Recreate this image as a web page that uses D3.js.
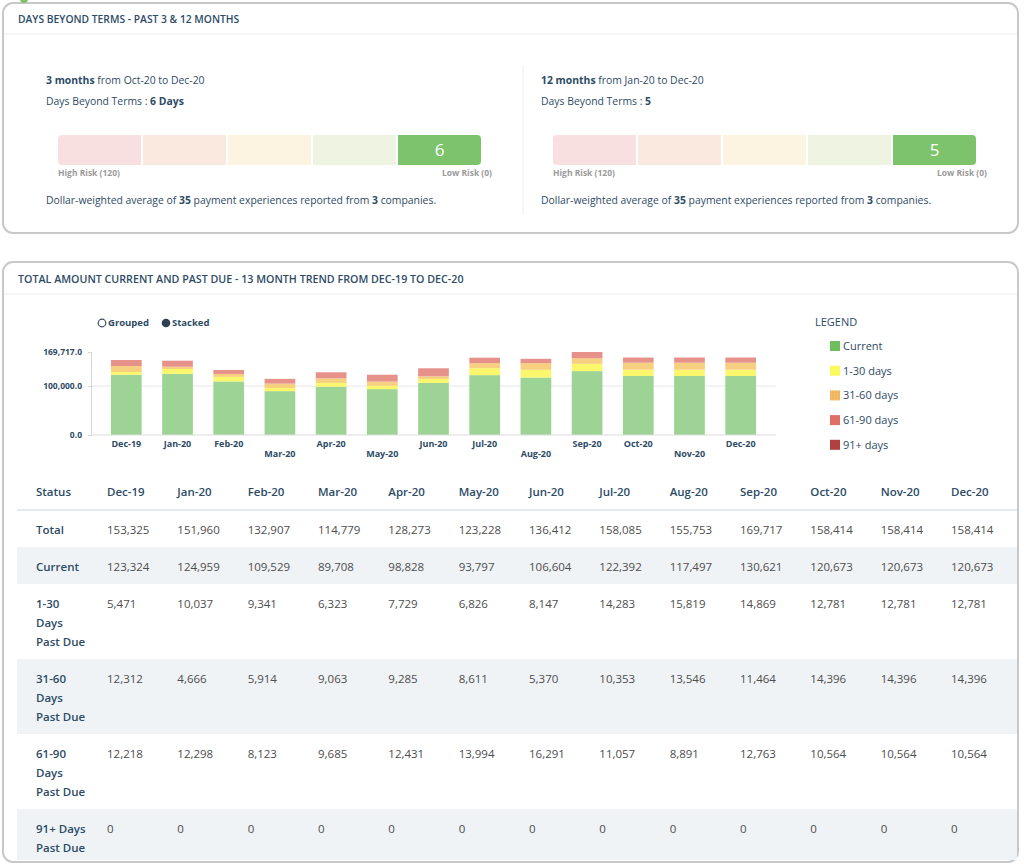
<!DOCTYPE html>
<html>
<head>
<meta charset="utf-8">
<script src="https://cdn.jsdelivr.net/npm/d3@7"></script>
<style>
    body { margin: 0; background: #fff; font-family: 'Open Sans', sans-serif; }
    svg { display: block; }
</style>
</head>
<body>
<svg id="page"></svg>
<script>
// ---- data ----
const months = ['Dec-19', 'Jan-20', 'Feb-20', 'Mar-20', 'Apr-20', 'May-20', 'Jun-20',
    'Jul-20', 'Aug-20', 'Sep-20', 'Oct-20', 'Nov-20', 'Dec-20']
const totals = [153325, 151960, 132907, 114779, 128273, 123228, 136412, 158085, 155753, 169717, 158414, 158414, 158414]
const current = [123324, 124959, 109529, 89708, 98828, 93797, 106604, 122392, 117497, 130621, 120673, 120673, 120673]
const days1to30 = [5471, 10037, 9341, 6323, 7729, 6826, 8147, 14283, 15819, 14869, 12781, 12781, 12781]
const days31to60 = [12312, 4666, 5914, 9063, 9285, 8611, 5370, 10353, 13546, 11464, 14396, 14396, 14396]
const days61to90 = [12218, 12298, 8123, 9685, 12431, 13994, 16291, 11057, 8891, 12763, 10564, 10564, 10564]
const days91plus = [0, 0, 0, 0, 0, 0, 0, 0, 0, 0, 0, 0, 0]

const seriesKeys = ['current', 'd1_30', 'd31_60', 'd61_90', 'd91']
const legendLabels = ['Current', '1-30 days', '31-60 days', '61-90 days', '91+ days']
const rowLabels = [['Total'], ['Current'], ['1-30', 'Days', 'Past Due'], ['31-60', 'Days', 'Past Due'],
    ['61-90', 'Days', 'Past Due'], ['91+ Days', 'Past Due']]

// days beyond terms panels
const periodMonths = [3, 12]
const periodFrom = ['Oct-20', 'Jan-20']
const periodTo = ['Dec-20', 'Dec-20']
const dbtValues = [6, 5]
const dbtSuffix = [' Days', '']
const experiences = [35, 35]
const companies = [3, 3]
const riskMax = 120

// ---- styles ----
const textDark = '#2d4b66'
const valueGrey = '#4d4d4d'
const barColours = ['#9dd394', '#fbf76c', '#f6cf80', '#e6928a', '#b84a45']
const legendColours = ['#6cbf5b', '#fbf95c', 'url(#dots)', '#df6f66', '#b0413e']
const gaugePale = ['#f8e0e0', '#fae9df', '#fdf3e1', '#eff3e2', '#eff3e2']
const gaugeActive = ['#de6b62', '#f0a060', '#f3c75c', '#a9d38e', '#7cc36b']

const svg = d3.select('#page').attr('width', 1024).attr('height', 868)
svg.append('rect').attr('width', 1024).attr('height', 868).attr('fill', '#fff')

// dotted fill used by the 31-60 legend swatch
const dots = svg.append('defs').append('pattern')
    .attr('id', 'dots').attr('width', 3).attr('height', 3).attr('patternUnits', 'userSpaceOnUse')
dots.append('rect').attr('width', 3).attr('height', 3).attr('fill', '#f0b65e')
dots.append('circle').attr('cx', 1.5).attr('cy', 1.5).attr('r', 0.6).attr('fill', '#f8d68e')

const panel = (y, h, title, sepY, size) => {
    svg.append('rect')
        .attr('x', 3).attr('y', y).attr('width', 1015).attr('height', h)
        .attr('rx', 10)
        .attr('fill', 'none').attr('stroke', '#c8c8c8').attr('stroke-width', 2)
    svg.append('line')
        .attr('x1', 4).attr('x2', 1017).attr('y1', sepY).attr('y2', sepY)
        .attr('stroke', '#eeeeee')
    svg.append('text')
        .attr('x', 18).attr('y', sepY - 15).attr('dy', '0.35em')
        .attr('fill', textDark).attr('font-size', size).attr('font-weight', 600)
        .text(title)
}

const richText = (x, y, parts, size) => {
    const t = svg.append('text').attr('x', x).attr('y', y).attr('dy', '0.35em')
        .attr('font-size', size).attr('fill', textDark)
    parts.forEach(p => t.append('tspan').attr('font-weight', p[1] ? 700 : 400).text(p[0]))
    return t
}

// ---- panel 1: days beyond terms ----
panel(3, 230, 'DAYS BEYOND TERMS - PAST 3 & 12 MONTHS', 34, 10.3)
svg.append('circle').attr('cx', 24).attr('cy', -1).attr('r', 4).attr('fill', '#7cc36b')
svg.append('line')
    .attr('x1', 523).attr('x2', 523).attr('y1', 65).attr('y2', 215)
    .attr('stroke', '#eeeeee')

const bins = d3.scaleQuantize().domain([0, riskMax]).range([4, 3, 2, 1, 0])

periodMonths.forEach((m, i) => {
    const ox = i * 495
    richText(46 + ox, 80, [[`${m} months`, true], [` from ${periodFrom[i]} to ${periodTo[i]}`, false]], 10.4)
    richText(46 + ox, 101, [['Days Beyond Terms : ', false], [`${dbtValues[i]}${dbtSuffix[i]}`, true]], 10.4)
    richText(46 + ox, 200, [['Dollar-weighted average of ', false], [experiences[i], true],
        [' payment experiences reported from ', false], [companies[i], true], [' companies.', false]], 10.4)

    const gx = d3.scaleBand().domain(d3.range(5)).range([58 + ox, 481 + ox]).paddingInner(0.024)
    const active = bins(dbtValues[i])
    const clipId = `gauge-clip-${i}`
    svg.append('clipPath').attr('id', clipId)
        .append('rect').attr('x', 58 + ox).attr('y', 135).attr('width', 423).attr('height', 30).attr('rx', 4)
    const g = svg.append('g').attr('clip-path', `url(#${clipId})`)
    g.selectAll('rect')
        .data(d3.range(5))
        .join('rect')
        .attr('x', d => gx(d))
        .attr('y', 135)
        .attr('width', gx.bandwidth())
        .attr('height', 30)
        .attr('fill', d => d === active ? gaugeActive[d] : gaugePale[d])
    svg.append('text')
        .attr('x', gx(active) + gx.bandwidth() / 2).attr('y', 150).attr('dy', '0.35em')
        .attr('text-anchor', 'middle').attr('fill', '#fff').attr('font-size', 17)
        .text(dbtValues[i])
    svg.append('text')
        .attr('x', 58 + ox).attr('y', 173).attr('dy', '0.35em')
        .attr('fill', '#9a9a9a').attr('font-size', 8.5).attr('font-weight', 700)
        .text(`High Risk (${riskMax})`)
    svg.append('text')
        .attr('x', 492 + ox).attr('y', 173).attr('dy', '0.35em').attr('text-anchor', 'end')
        .attr('fill', '#9a9a9a').attr('font-size', 8.5).attr('font-weight', 700)
        .text('Low Risk (0)')
})

// ---- panel 2: trend chart ----
panel(262, 600, 'TOTAL AMOUNT CURRENT AND PAST DUE - 13 MONTH TREND FROM DEC-19 TO DEC-20', 294, 10.7)

// grouped / stacked toggle
const toggle = svg.append('g').attr('font-size', 9.5).attr('font-weight', 700).attr('fill', textDark)
toggle.append('circle').attr('cx', 102).attr('cy', 323).attr('r', 3.8)
    .attr('fill', '#fff').attr('stroke', '#3a4a5a').attr('stroke-width', 1.2)
toggle.append('text').attr('x', 108).attr('y', 323).attr('dy', '0.35em').text('Grouped')
toggle.append('circle').attr('cx', 166).attr('cy', 323).attr('r', 4.3).attr('fill', '#2f4054')
toggle.append('text').attr('x', 172).attr('y', 323).attr('dy', '0.35em').text('Stacked')

const stackData = months.map((m, i) => ({
    month: m,
    current: current[i],
    d1_30: days1to30[i],
    d31_60: days31to60[i],
    d61_90: days61to90[i],
    d91: days91plus[i]
}))
const stacked = d3.stack().keys(seriesKeys)(stackData)

const x = d3.scaleBand().domain(months).range([91, 776]).paddingInner(0.4).paddingOuter(0.39)
const y = d3.scaleLinear().domain([0, d3.max(totals)]).range([435, 352])

const chart = svg.append('g')
const yTicks = [0, 100000, d3.max(totals)]
chart.selectAll('.grid')
    .data(yTicks.filter(d => d > 0 && d < d3.max(totals)))
    .join('line')
    .attr('x1', 91).attr('x2', 776)
    .attr('y1', d => y(d)).attr('y2', d => y(d))
    .attr('stroke', '#e6e6e6')

chart.append('g')
    .attr('transform', 'translate(91, 0)')
    .call(d3.axisLeft(y).tickValues(yTicks).tickFormat(d3.format(',.1f')).tickSize(3).tickPadding(6))
    .call(a => a.select('.domain').attr('stroke', '#d5d5d5'))
    .call(a => a.selectAll('.tick line').attr('stroke', '#d5d5d5'))
    .call(a => a.selectAll('.tick text')
        .attr('fill', textDark).attr('font-size', 8.5).attr('font-weight', 700)
        .attr('font-family', "'Open Sans', sans-serif"))

chart.append('g')
    .selectAll('g')
    .data(stacked)
    .join('g')
    .attr('fill', (d, i) => barColours[i])
    .selectAll('rect')
    .data(d => d)
    .join('rect')
    .attr('x', d => x(d.data.month))
    .attr('y', d => y(d[1]))
    .attr('width', x.bandwidth())
    .attr('height', d => y(d[0]) - y(d[1]))

chart.append('line')
    .attr('x1', 91).attr('x2', 776).attr('y1', 435).attr('y2', 435)
    .attr('stroke', '#dddddd')

// labels are staggered where the text would crowd
const loweredLabels = ['Mar-20', 'May-20', 'Aug-20', 'Nov-20']
chart.selectAll('.xlabel')
    .data(months)
    .join('text')
    .attr('x', d => x(d) + x.bandwidth() / 2)
    .attr('y', d => loweredLabels.includes(d) ? 454 : 444)
    .attr('dy', '0.35em')
    .attr('text-anchor', 'middle')
    .attr('fill', textDark).attr('font-size', 9).attr('font-weight', 700)
    .text(d => d)

// legend
const legend = svg.append('g')
legend.append('text').attr('x', 815).attr('y', 322).attr('dy', '0.35em')
    .attr('fill', textDark).attr('font-size', 11).text('LEGEND')
const item = legend.selectAll('.item')
    .data(legendLabels)
    .join('g')
    .attr('transform', (d, i) => `translate(830, ${346 + i * 24.7})`)
item.append('rect').attr('x', 0).attr('y', -5).attr('width', 10).attr('height', 10)
    .attr('fill', (d, i) => legendColours[i])
item.append('text').attr('x', 13).attr('y', 0).attr('dy', '0.35em')
    .attr('fill', textDark).attr('font-size', 11).text(d => d)

// ---- table ----
const tableRows = [totals, current, days1to30, days31to60, days61to90, days91plus]
const col = d3.scalePoint().domain(months).range([107, 951])
const lineH = 19
const fmt = d3.format(',')

svg.append('text').attr('x', 36).attr('y', 492).attr('dy', '0.35em')
    .attr('fill', textDark).attr('font-size', 11.5).attr('font-weight', 600).text('Status')
svg.selectAll('.colhead')
    .data(months)
    .join('text')
    .attr('x', d => col(d)).attr('y', 492).attr('dy', '0.35em')
    .attr('fill', textDark).attr('font-size', 11.5).attr('font-weight', 600)
    .text(d => d)

let rowY = 510
const rowTops = rowLabels.map(lines => {
    const t = rowY
    rowY += 18 + lines.length * lineH
    return t
})

const rows = svg.append('g')
    .selectAll('g')
    .data(tableRows)
    .join('g')
rows.append('rect')
    .attr('x', 17).attr('width', 1000)
    .attr('y', (d, i) => rowTops[i])
    .attr('height', (d, i) => Math.min(18 + rowLabels[i].length * lineH, 860 - rowTops[i]))
    .attr('fill', (d, i) => i % 2 ? '#eff3f6' : '#fff')
rows.each(function (vals, i) {
    const g = d3.select(this)
    g.selectAll('.lbl')
        .data(rowLabels[i])
        .join('text')
        .attr('x', 36)
        .attr('y', (d, j) => rowTops[i] + 20 + j * lineH)
        .attr('dy', '0.35em')
        .attr('fill', textDark).attr('font-size', 11.5).attr('font-weight', 600)
        .text(d => d)
    g.selectAll('.val')
        .data(vals)
        .join('text')
        .attr('x', (d, j) => col(months[j]))
        .attr('y', rowTops[i] + 20)
        .attr('dy', '0.35em')
        .attr('fill', valueGrey).attr('font-size', 11.5)
        .text(d => fmt(d))
})

svg.append('line')
    .attr('x1', 17).attr('x2', 1017).attr('y1', 510).attr('y2', 510)
    .attr('stroke', '#dde3e8').attr('stroke-width', 1.5)
</script>
</body>
</html>
